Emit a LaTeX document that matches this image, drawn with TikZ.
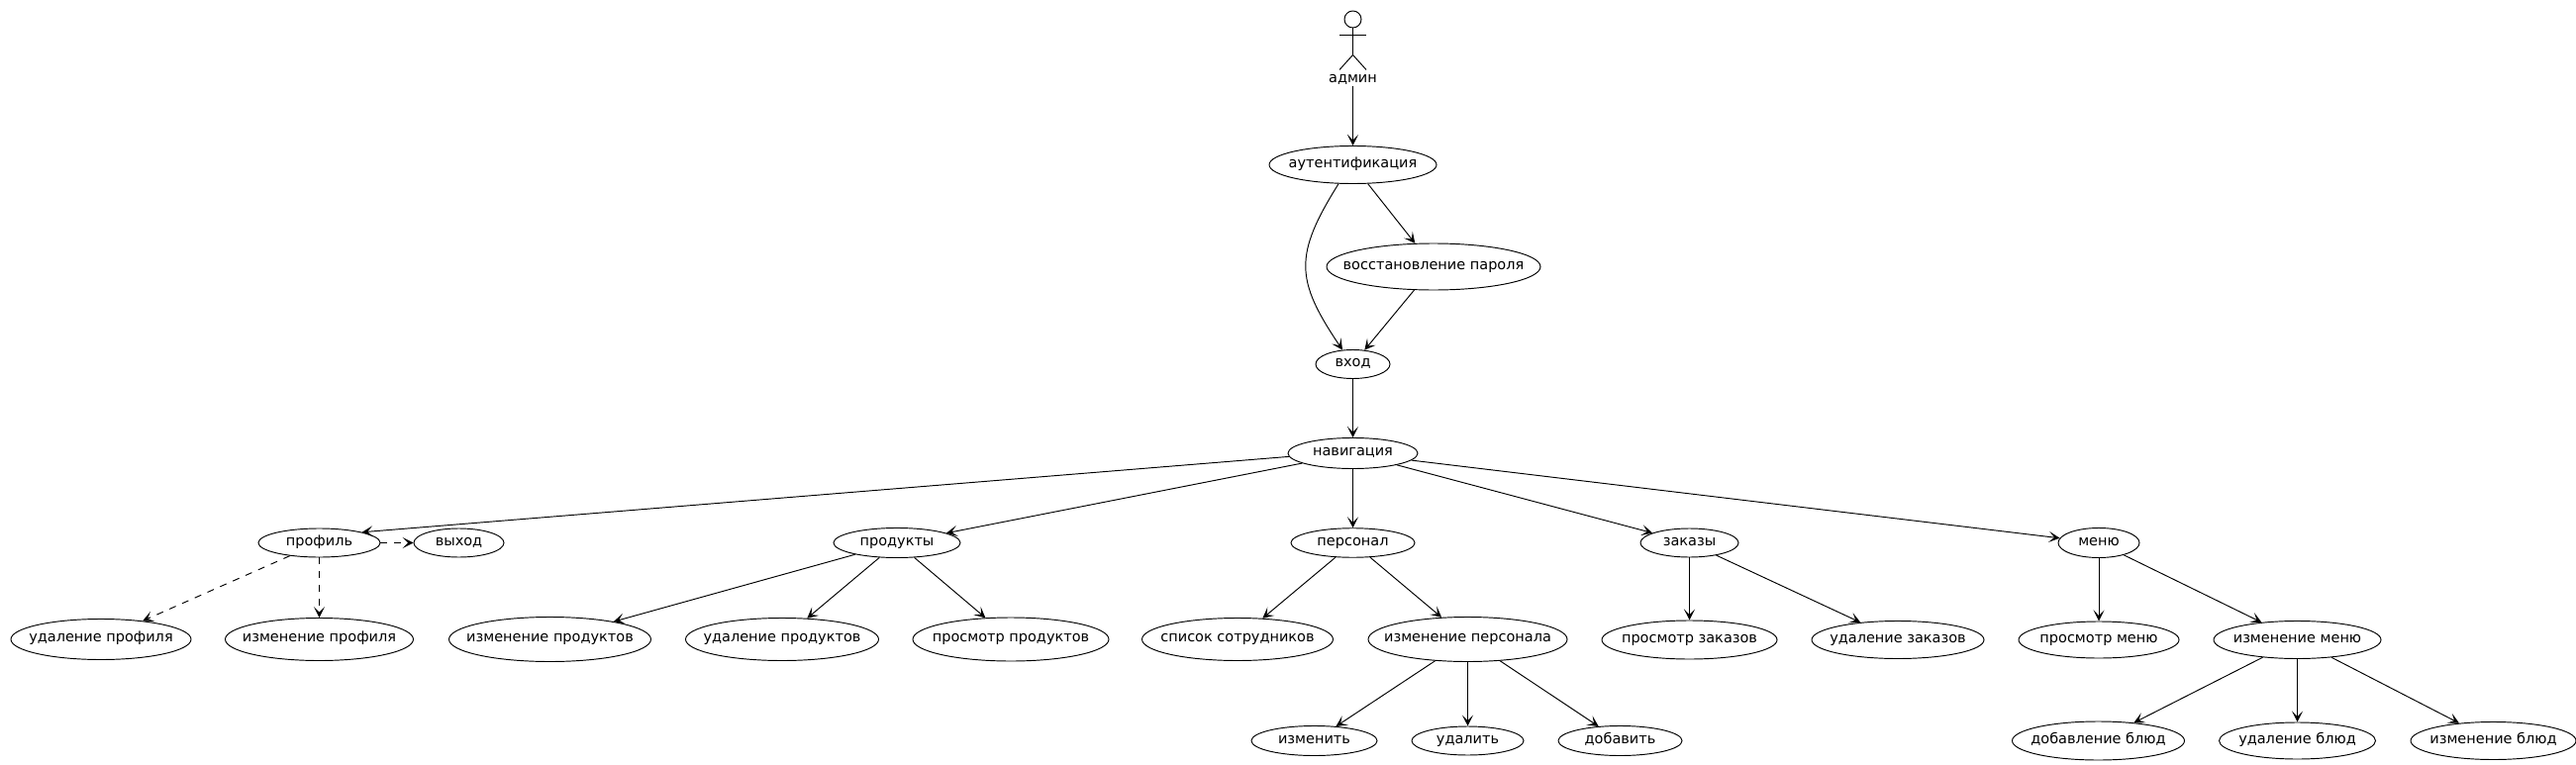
\documentclass[tikz,border=0pt]{standalone}
\usepackage{fontspec}
\setmainfont{DejaVu Sans}
\usetikzlibrary{arrows.meta,shapes.geometric}
\begin{document}
\begin{tikzpicture}[line width=0.95pt, >={Stealth[length=11pt,width=11pt,inset=5.5pt]},
    font=\fontsize{14.5}{16}\selectfont,
    main/.style 2 args = {draw, ellipse, inner sep=-40pt, minimum width=#1pt, minimum height=#2pt, text height=10pt, text depth=4.5pt},
    lbl/.style = {inner sep=0pt, text height=10pt, text depth=3pt},
    opt/.style = {dash pattern=on 7pt off 7pt}]
        \useasboundingbox (0pt,0pt) rectangle (2602pt,-773pt);
        % actor
        \node[draw, circle, inner sep=0pt, minimum size=17pt] (head) at (1366.5pt,-19.5pt) {};
        \coordinate (neck) at ([yshift=-7pt]head.south);
        \coordinate (hip) at ([yshift=-27pt]head.south);
        \coordinate (arml) at ([xshift=-13.5pt]neck);
        \coordinate (armr) at ([xshift=13.5pt]neck);
        \coordinate (legl) at ([xshift=-13.5pt,yshift=-15pt]hip);
        \coordinate (legr) at ([xshift=13.5pt,yshift=-15pt]hip);
        \draw (head.south) -- (hip);
        \draw (arml) -- (armr);
        \draw (legl) -- (hip) -- (legr);
        \node[lbl] (admin) [node distance=60.5pt, below of=head] {админ};
        % top
        \node[main={169}{38}] (auth) [node distance=147pt, below of=head] {аутентификация};
        \node[main={216}{47}] (restore) [node distance=103pt, below of=auth, xshift=81.5pt] {восстановление пароля};
        \node[main={75}{29}] (login) [node distance=201.5pt, below of=auth] {вход};
        \node[main={131}{31}] (nav) [node distance=90pt, below of=login] {навигация};
        % second row
        \node[main={125}{29.5}] (staff) [node distance=90.5pt, below of=nav] {персонал};
        \node[main={128}{30}] (products) [node distance=460.5pt, left of=staff] {продукты};
        \node[main={123}{29}] (profile) [node distance=583.5pt, left of=products] {профиль};
        \node[main={91}{29}] (logout) [node distance=141pt, right of=profile] {выход};
        \node[main={99}{29}] (orders) [node distance=340pt, right of=staff] {заказы};
        \node[main={82}{30}] (menu) [node distance=413.5pt, right of=orders] {меню};
        % third row
        \node[main={190}{43}] (profedit) [node distance=97.5pt, below of=profile] {изменение профиля};
        \node[main={182}{41}] (profdel) [node distance=220.5pt, left of=profedit] {удаление профиля};
        \node[main={204}{45}] (prodedit) [node distance=233pt, right of=profedit] {изменение продуктов};
        \node[main={195}{43}] (proddel) [node distance=234.5pt, right of=prodedit] {удаление продуктов};
        \node[main={198}{44}] (prodview) [node distance=231pt, right of=proddel] {просмотр продуктов};
        \node[main={193}{43}] (stafflist) [node distance=229pt, right of=prodview] {список сотрудников};
        \node[main={201}{45}] (staffedit) [node distance=232.5pt, right of=stafflist] {изменение персонала};
        \node[main={177}{39}] (ordview) [node distance=98pt, below of=orders] {просмотр заказов};
        \node[main={174}{38}] (orddel) [node distance=210.5pt, right of=ordview] {удаление заказов};
        \node[main={162}{37}] (menuview) [node distance=98pt, below of=menu] {просмотр меню};
        \node[main={169}{38}] (menuedit) [node distance=200.5pt, right of=menuview] {изменение меню};
        % fourth row
        \node[main={113}{29}] (staffdel) [node distance=102.5pt, below of=staffedit] {удалить};
        \node[main={127}{30}] (staffchg) [node distance=155pt, left of=staffdel] {изменить};
        \node[main={125}{30}] (staffadd) [node distance=154pt, right of=staffdel] {добавить};
        \node[main={158}{37}] (dishdel) [node distance=102pt, below of=menuedit] {удаление блюд};
        \node[main={174}{39}] (dishadd) [node distance=201pt, left of=dishdel] {добавление блюд};
        \node[main={167}{38}] (dishedit) [node distance=198pt, right of=dishdel] {изменение блюд};
        % connectors
        \draw[->] (admin) -- (auth);
        \draw[->] (auth) -- (restore);
        \draw[->] (auth.233) to[out=238, in=124, looseness=1.3] (login.126);
        \draw[->] (restore) -- (login);
        \draw[->] (login) -- (nav);
        \draw[->] (nav.183) -- (profile.14);
        \draw[->] (nav) -- (products);
        \draw[->] (nav) -- (staff);
        \draw[->] (nav) -- (orders);
        \draw[->] (nav) -- (menu);
        \draw[->, opt] (profile) -- (logout);
        \draw[->, opt] (profile) -- (profdel);
        \draw[->, opt] (profile) -- (profedit);
        \draw[->] (products) -- (prodedit);
        \draw[->] (products) -- (proddel);
        \draw[->] (products) -- (prodview);
        \draw[->] (staff) -- (stafflist);
        \draw[->] (staff) -- (staffedit);
        \draw[->] (staffedit) -- (staffchg);
        \draw[->] (staffedit) -- (staffdel);
        \draw[->] (staffedit) -- (staffadd);
        \draw[->] (orders) -- (ordview);
        \draw[->] (orders) -- (orddel);
        \draw[->] (menu) -- (menuview);
        \draw[->] (menu) -- (menuedit);
        \draw[->] (menuedit) -- (dishadd);
        \draw[->] (menuedit) -- (dishdel);
        \draw[->] (menuedit) -- (dishedit);
    \end{tikzpicture}
\end{document}
